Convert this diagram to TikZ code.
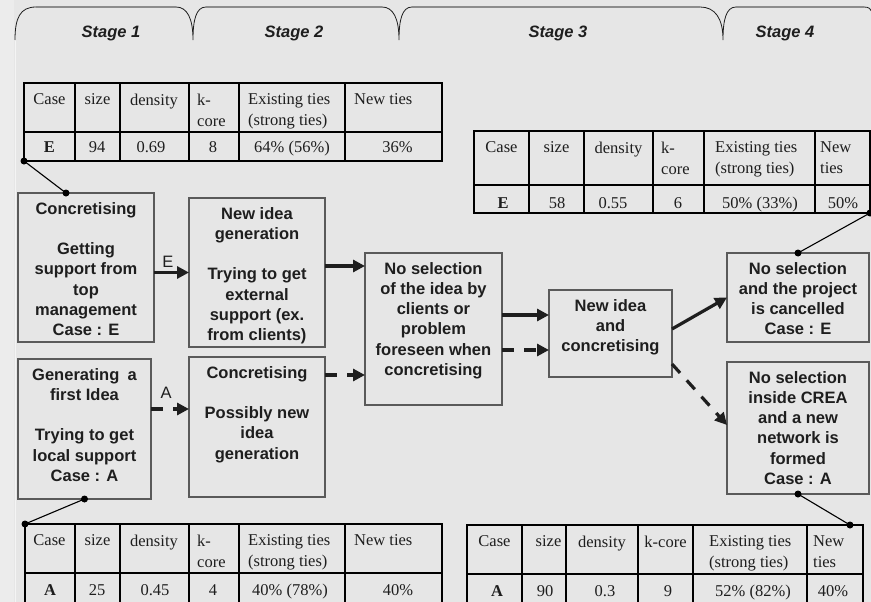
\documentclass[tikz,border=0pt]{standalone}
\usepackage{fontspec}
\setmainfont{Liberation Serif}
\setsansfont{Liberation Sans}
\usetikzlibrary{arrows.meta,fit}
\definecolor{paper}{HTML}{E6E6E6}
\definecolor{strip}{HTML}{ECECEC}
\definecolor{edge}{HTML}{5A5A5A}
\definecolor{ink}{HTML}{1E1E1E}
\definecolor{tabgray}{HTML}{8C8C8C}
\newcommand{\boxlines}[3]{\parbox[c][#2pt][t]{#1pt}{\centering\rule{0pt}{21pt}#3}}

\begin{document}
\begin{tikzpicture}[x=1pt,y=-1pt,
  stagebox/.style={draw=edge, line width=1.4pt, inner sep=0pt, outer sep=0pt, anchor=north west, text=ink, font=\sffamily\bfseries\fontsize{16.5}{20.3}\selectfont},
  stagename/.style={anchor=base, text=ink, font=\sffamily\bfseries\itshape\fontsize{16.5}{20}\selectfont},
  grid/.style={draw=black, line width=2.4pt, inner sep=0pt, outer sep=0pt},
  gridline/.style={black, line width=2.2pt},
  head/.style={inner sep=0pt, align=left, text=ink, font=\fontsize{16.5}{21}\selectfont},
  cell/.style={anchor=base, inner sep=0pt, text=ink, font=\fontsize{16.5}{21}\selectfont},
  flow/.style={ink, line width=3.2pt, -{Triangle[length=12pt,width=12pt]}},
  flowdash/.style={flow, dash pattern=on 12pt off 10pt},
  arrlabel/.style={text=ink, font=\sffamily\fontsize{16.5}{20}\selectfont},
  tie/.style={black, line width=1.1pt},
  dot/.style={circle, fill=black, inner sep=0pt, minimum size=7pt},
  tabedge/.style={draw=ink, line width=0.8pt},
  tabtop/.style={draw=tabgray, line width=2.2pt}]
\useasboundingbox (0,0) rectangle (871,602);
\fill[paper] (0,0) rectangle (871,602);
\fill[strip] (0,0) rectangle (14,602);
\draw[white!55!paper, line width=1pt] (15,40) -- (15,602);

% stages
\draw[tabedge] (15,40) .. controls (15,18) and (20,7) .. (36,7) -- (176,7) .. controls (187,7) and (193,18) .. (193,40) .. controls (193,20) and (196,7) .. (206,7) -- (382,7) .. controls (393,7) and (399,18) .. (399,40) .. controls (399,20) and (402,7) .. (412,7) -- (700,7) .. controls (715,7) and (723,18) .. (723,40) .. controls (723,20) and (726,7) .. (736,7) -- (864,7) .. controls (869,7) and (871,9) .. (872,12);
\foreach \a/\b in {36/176, 206/382, 412/700, 736/864}
  \draw[tabtop] (\a,7) -- (\b,7);
\node[stagename] (st1) at (111,37.5) {Stage 1};
\node[stagename] (st2) at (294,37.5) {Stage 2};
\node[stagename] (st3) at (558,37.5) {Stage 3};
\node[stagename] (st4) at (785,37.5) {Stage 4};

% tables
\node[grid, fit={(24,83) (442,161)}] (tabE1) {};
\draw[gridline] (24,132) -- (442,132);
\foreach \c in {75,120,189,239,345} \draw[gridline] (\c,83) -- (\c,161);
\foreach \x/\a/\t [count=\i] in {49.5/north/Case, 97.5/north/size, 154/north/density, 197/north west/{k-\\core}, 248/north west/{Existing ties\\(strong ties)}, 354/north west/New ties}
  \node[head, anchor=\a] (tabE1h\i) at (\x,93.5) {\t};
\foreach \x/\t [count=\i] in {49.5/\textbf{E}, 97/94, 151/0.69, 213/8, 292/{64\% (56\%)}, 397.5/36\%}
  \node[cell] (tabE1d\i) at (\x,152) {\t};

\node[grid, fit={(474,131) (870,213)}] (tabE2) {};
\draw[gridline] (474,185) -- (870,185);
\foreach \c in {529,584,653,704,815} \draw[gridline] (\c,131) -- (\c,213);
\foreach \x/\a/\t [count=\i] in {501.5/north/Case, 556.5/north/size, 618.5/north/density, 661/north west/{k-\\core}, 715/north west/{Existing ties\\(strong ties)}, 820/north west/{New\\ties}}
  \node[head, anchor=\a] (tabE2h\i) at (\x,141.5) {\t};
\foreach \x/\t [count=\i] in {503/\textbf{E}, 557/58, 613/0.55, 678/6, 760/{50\% (33\%)}, 843/50\%}
  \node[cell] (tabE2d\i) at (\x,208) {\t};

\node[grid, fit={(25,524) (442,605)}] (tabA1) {};
\draw[gridline] (25,573) -- (442,573);
\foreach \c in {75,120,189,239,345} \draw[gridline] (\c,524) -- (\c,605);
\foreach \x/\a/\t [count=\i] in {49.5/north/Case, 97.5/north/size, 154/north/density, 197/north west/{k-\\core}, 248/north west/{Existing ties\\(strong ties)}, 354/north west/New ties}
  \node[head, anchor=\a] (tabA1h\i) at (\x,534.5) {\t};
\foreach \x/\t [count=\i] in {50/\textbf{A}, 97/25, 155/0.45, 213/4, 290/{40\% (78\%)}, 398/40\%}
  \node[cell] (tabA1d\i) at (\x,595) {\t};

\node[grid, fit={(467,525) (863,606)}] (tabA2) {};
\draw[gridline] (467,574) -- (863,574);
\foreach \c in {522,566,638,693,807} \draw[gridline] (\c,525) -- (\c,606);
\foreach \x/\a/\t [count=\i] in {494.5/north/Case, 548.5/north/size, 602/north/density, 665.5/north/k-core, 709/north west/{Existing ties\\(strong ties)}, 813/north west/{New\\ties}}
  \node[head, anchor=\a] (tabA2h\i) at (\x,535.5) {\t};
\foreach \x/\t [count=\i] in {497/\textbf{A}, 545/90, 605/0.3, 668/9, 753/{52\% (82\%)}, 833/40\%}
  \node[cell] (tabA2d\i) at (\x,596) {\t};

% boxes
\node[stagebox] (conE) at (18,193) {\boxlines{136}{149}{Concretising\\[20.3pt]Getting\\support from\\top\\management\\Case : E}};
\node[stagebox] (genE) at (189,198) {\boxlines{136}{149}{New idea\\generation\\[20.3pt]Trying to get\\external\\support (ex.\\from clients)}};
\node[stagebox] (genA) at (18,359) {\boxlines{133}{140}{Generating\enspace a\\first Idea\\[20.3pt]Trying to get\\local support\\Case : A}};
\node[stagebox] (conA) at (189,357) {\boxlines{136}{140}{Concretising\\[20.3pt]Possibly new\\idea\\generation}};
\node[stagebox] (noSel) at (365,253) {\boxlines{137}{152}{No selection\\of the idea by\\clients or\\problem\\foreseen when\\concretising}};
\node[stagebox] (newConc) at (549,290) {\boxlines{123}{87}{New idea\\and\\concretising}};
\node[stagebox] (cancel) at (727,253) {\boxlines{142}{89}{No selection\\and the project\\is cancelled\\Case : E}};
\node[stagebox] (crea) at (727,362) {\boxlines{142}{132}{No selection\\inside CREA\\and a new\\network is\\formed\\Case : A}};

% flows
\coordinate (fromA) at ([yshift=20pt]genA.east);
\coordinate (fromGenE) at ([yshift=6.5pt]genE.east);
\coordinate (fromConA) at ([yshift=52pt]conA.east);
\coordinate (fromSelE) at ([yshift=14pt]noSel.east);
\coordinate (fromSelA) at ([yshift=-21pt]noSel.east);
\draw[flow] (conE.east |- genE.west) -- node[arrlabel, above, pos=0.4] (labE) {E} (genE.west);
\draw[flowdash] (fromA) -- node[arrlabel, above=6pt, pos=0.4] (labA) {A} (fromA -| conA.west);
\draw[flow] (fromGenE) -- (fromGenE -| noSel.west);
\draw[flowdash] (fromConA) -- (fromConA -| noSel.west);
\draw[flow] (fromSelE) -- (fromSelE -| newConc.west);
\draw[flowdash] (fromSelA) -- (fromSelA -| newConc.west);
\draw[flow] ([yshift=4.5pt]newConc.east) -- (cancel.west);
\draw[flowdash] ([yshift=-30.5pt]newConc.east) -- ([yshift=3pt]crea.west);

% ties
\draw[tie] (tabE1.south west) node[dot] (dE1) {} -- ([xshift=48pt]conE.north west) node[dot] (dE1b) {};
\draw[tie] (genA.south) node[dot] (dA1b) {} -- (tabA1.north west) node[dot] (dA1) {};
\draw[tie] (cancel.north) node[dot] (dE2b) {} -- (tabE2.south east) node[dot] (dE2) {};
\draw[tie] (crea.south) node[dot] (dA2b) {} -- ([xshift=-13pt]tabA2.north east) node[dot] (dA2) {};
\end{tikzpicture}
\end{document}
